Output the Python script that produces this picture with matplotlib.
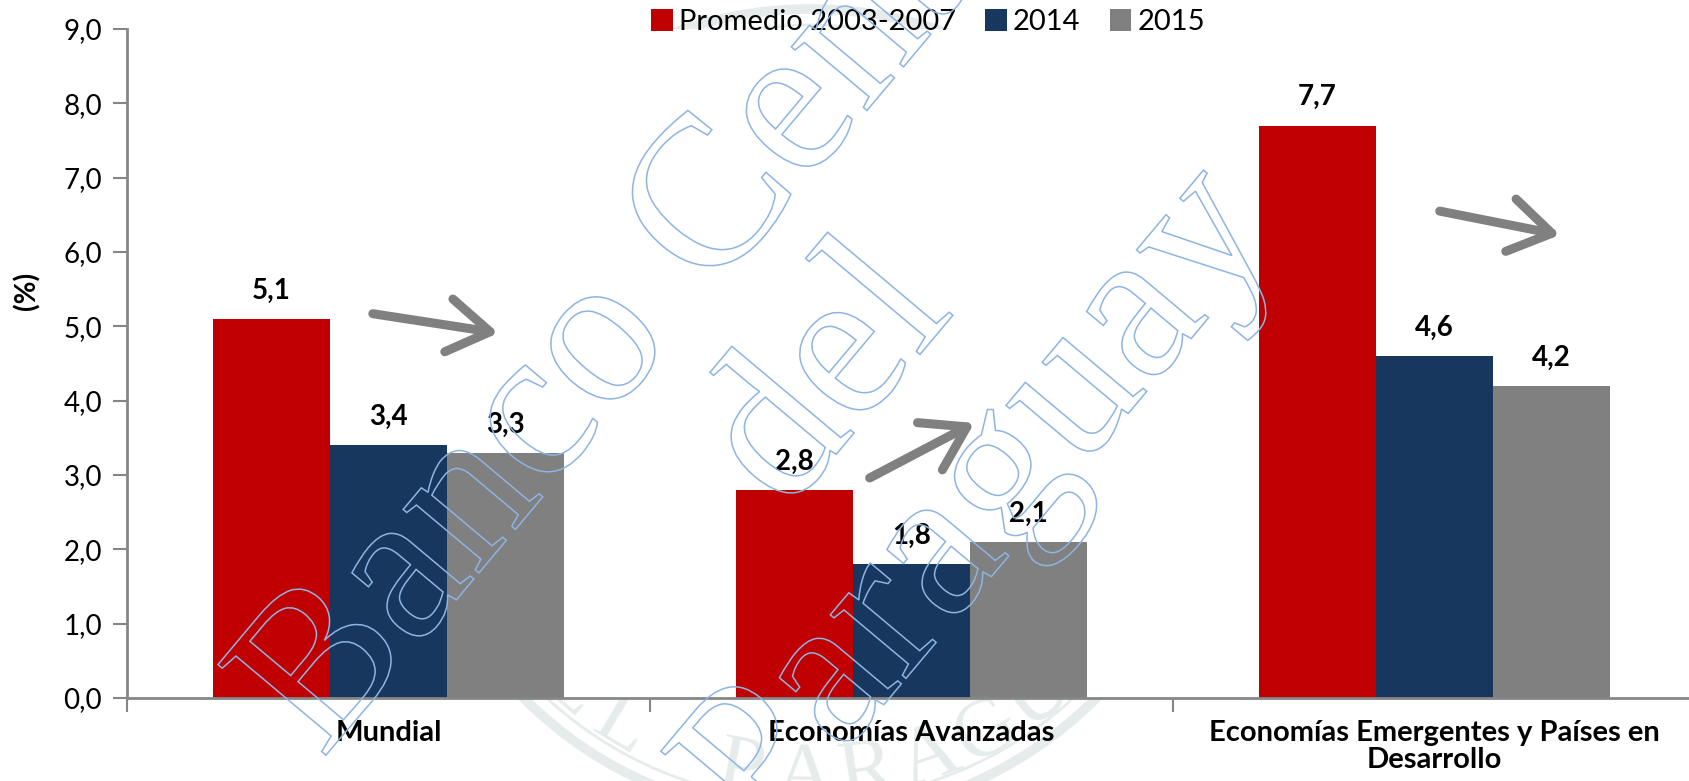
import matplotlib
matplotlib.use("Agg")
import matplotlib.pyplot as plt
import matplotlib.patheffects as pe
from matplotlib.patches import Circle
from matplotlib.transforms import IdentityTransform
import numpy as np

categories = ["Mundial", "Economías Avanzadas", "Economías Emergentes y Países en\nDesarrollo"]
series_names = ["Promedio 2003-2007", "2014", "2015"]
prom_2003_2007 = [5.1, 2.8, 7.7]
vals_2014 = [3.4, 1.8, 4.6]
vals_2015 = [3.3, 2.1, 4.2]
series = [prom_2003_2007, vals_2014, vals_2015]
colors = ["#C00000", "#17375E", "#808080"]
yticks = [0, 1, 2, 3, 4, 5, 6, 7, 8, 9]

# trend arrows (start, end) in data coordinates
arrows = [((-0.03, 5.17), (0.21, 4.91)),
          ((0.92, 2.96), (1.12, 3.70)),
          ((2.01, 6.55), (2.24, 6.23))]

watermark = "Banco Central\ndel\nParaguay"
seal_text = "DEL PARAGUAY"

plt.rcParams['font.family'] = ['Lato', 'DejaVu Sans']

W, H = 1690, 781
fig = plt.figure(figsize=(W / 100, H / 100), dpi=100)
ax = fig.add_axes([127 / W, 83 / H, 1569 / W, 669 / H])
ax.patch.set_facecolor("white")

# faint seal in background (hidden by the plot area)
seal_col = "#E6ECEC"
cx, cy = 810, 413
for r, lw in [(404, 7), (388, 2)]:
    c = Circle((cx, H - cy), r, fill=False, edgecolor=seal_col, lw=lw, zorder=-5)
    c.set_transform(IdentityTransform())
    fig.patches.append(c)
for i, ch in enumerate(seal_text):
    th = np.deg2rad(51 - i * 10)
    px = cx - 365 * np.sin(th)
    py = cy + 365 * np.cos(th)
    fig.text(px / W, 1 - py / H, ch, rotation=-np.rad2deg(th), ha="center", va="center",
             rotation_mode="anchor", fontsize=60, family="Liberation Serif",
             color=seal_col, zorder=-5)

x = np.arange(len(categories))
w = 0.224
for i, (vals, col, name) in enumerate(zip(series, colors, series_names)):
    bars = ax.bar(x + (i - 1) * w, vals, w, color=col, label=name, zorder=2)
    for b, v in zip(bars, vals):
        ax.annotate(f"{v:.1f}".replace(".", ","), (b.get_x() + b.get_width() / 2, v),
                    xytext=(0, 11), textcoords="offset points", ha="center", va="bottom",
                    fontsize=20, fontweight="bold", color="black", zorder=3)

for (s, e) in arrows:
    ax.annotate("", xy=e, xytext=s,
                arrowprops=dict(arrowstyle="->,head_length=0.5,head_width=0.32",
                                lw=6.5, color="#808080", shrinkA=0, shrinkB=0,
                                mutation_scale=60, capstyle="round", joinstyle="round"),
                zorder=4)

ax.set_xlim(-0.5, 2.5)
ax.set_ylim(0, 9)
ax.set_yticks(yticks)
ax.set_yticklabels([f"{t:.1f}".replace(".", ",") for t in yticks], fontsize=20)
ax.set_xticks([-0.5, 0.5, 1.5, 2.5])
ax.set_xticklabels([])
ax.set_xticks(x, minor=True)
ax.set_xticklabels(categories, minor=True, fontsize=21, fontweight="bold", linespacing=1.05)
ax.tick_params(axis="x", which="minor", length=0, pad=16)
ax.tick_params(axis="x", which="major", length=10, width=1.5, color="#868686", direction="out")
ax.tick_params(axis="y", length=10, width=1.5, color="#868686", direction="out", pad=8)

for sp in ["top", "right"]:
    ax.spines[sp].set_visible(False)
for sp in ["left", "bottom"]:
    ax.spines[sp].set_color("#868686")
    ax.spines[sp].set_linewidth(2)

fig.text(27 / W, 1 - 291 / H, "(%)", rotation=90, ha="center", va="center",
         fontsize=20, fontweight="bold")

leg = fig.legend(loc="center", bbox_to_anchor=(928 / W, 1 - 22 / H), ncol=3, frameon=False,
                 fontsize=21, handlelength=0.75, handleheight=0.75, handletextpad=0.2,
                 columnspacing=1.0, borderaxespad=0)

# watermark
fig.text(832 / W, 1 - 380 / H, watermark, rotation=50,
         ha="center", va="center", multialignment="center", rotation_mode="anchor",
         fontsize=155, family="Liberation Serif", linespacing=1.02, color="none",
         path_effects=[pe.PathPatchEffect(edgecolor="#8DB4E2", facecolor="none", linewidth=1.1)],
         zorder=10)

fig.savefig("out.png", dpi=100)
